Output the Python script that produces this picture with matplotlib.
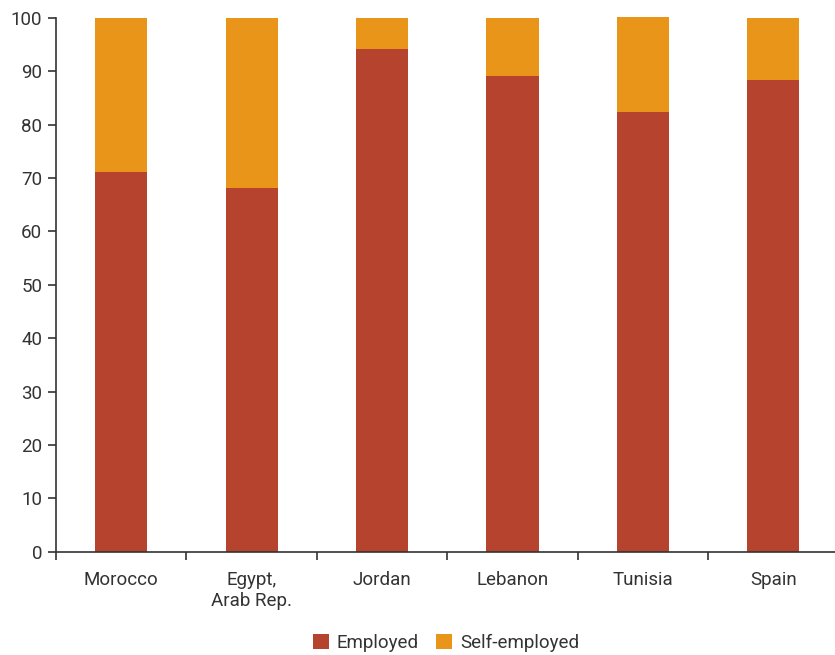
import matplotlib
matplotlib.use("Agg")
import matplotlib.pyplot as plt
import numpy as np

categories = ["Morocco", "Egypt,\nArab Rep.", "Jordan", "Lebanon", "Tunisia", "Spain"]
employed = [71.2, 68.2, 94.2, 89.2, 82.3, 88.4]
self_employed = [28.8, 31.8, 5.8, 10.8, 17.9, 11.6]
yticks = [0, 10, 20, 30, 40, 50, 60, 70, 80, 90, 100]

plt.rcParams['font.family'] = ['Roboto', 'DejaVu Sans']
text_color = "#333333"
fs = 13.5

W, H = 835, 655
fig = plt.figure(figsize=(W / 100, H / 100), dpi=100)
left, right = 56 / W, 838.5 / W
bottom, top = 1 - 551.7 / H, 1 - 18 / H
ax = fig.add_axes([left, bottom, right - left, top - bottom])

x = np.arange(len(categories))
c_emp = "#B5432E"
c_self = "#E89519"
b1 = ax.bar(x, employed, width=0.4, color=c_emp, label="Employed", zorder=2)
b2 = ax.bar(x, self_employed, width=0.4, bottom=employed, color=c_self, label="Self-employed", zorder=2)
for p in list(b1) + list(b2):
    p.set_clip_on(False)

ax.set_xlim(-0.5, len(categories) - 0.5)
ax.set_ylim(0, 100)
ax.set_yticks(yticks)
ax.set_yticklabels([str(v) for v in yticks])

ax.set_xticks(x)
ax.set_xticklabels(categories, linespacing=1.2)
ax.set_xticks(np.arange(len(categories) + 1) - 0.5, minor=True)
ax.tick_params(axis='x', which='major', length=0, pad=14, labelsize=fs, labelcolor=text_color)
ax.tick_params(axis='x', which='minor', length=6, width=1.2, color="#333333", direction='out')
ax.tick_params(axis='y', which='major', length=6, width=1.2, color="#333333", pad=4, labelsize=fs, labelcolor=text_color)

for s in ['top', 'right']:
    ax.spines[s].set_visible(False)
for s in ['left', 'bottom']:
    ax.spines[s].set_color("#333333")
    ax.spines[s].set_linewidth(1.2)

fig.legend(loc='center', bbox_to_anchor=(446 / W, 1 - 643 / H), ncol=2, frameon=False,
           fontsize=fs, handlelength=0.85, handleheight=0.85, handletextpad=0.45,
           columnspacing=0.9, labelcolor=text_color)

fig.savefig("out.png", dpi=100)
